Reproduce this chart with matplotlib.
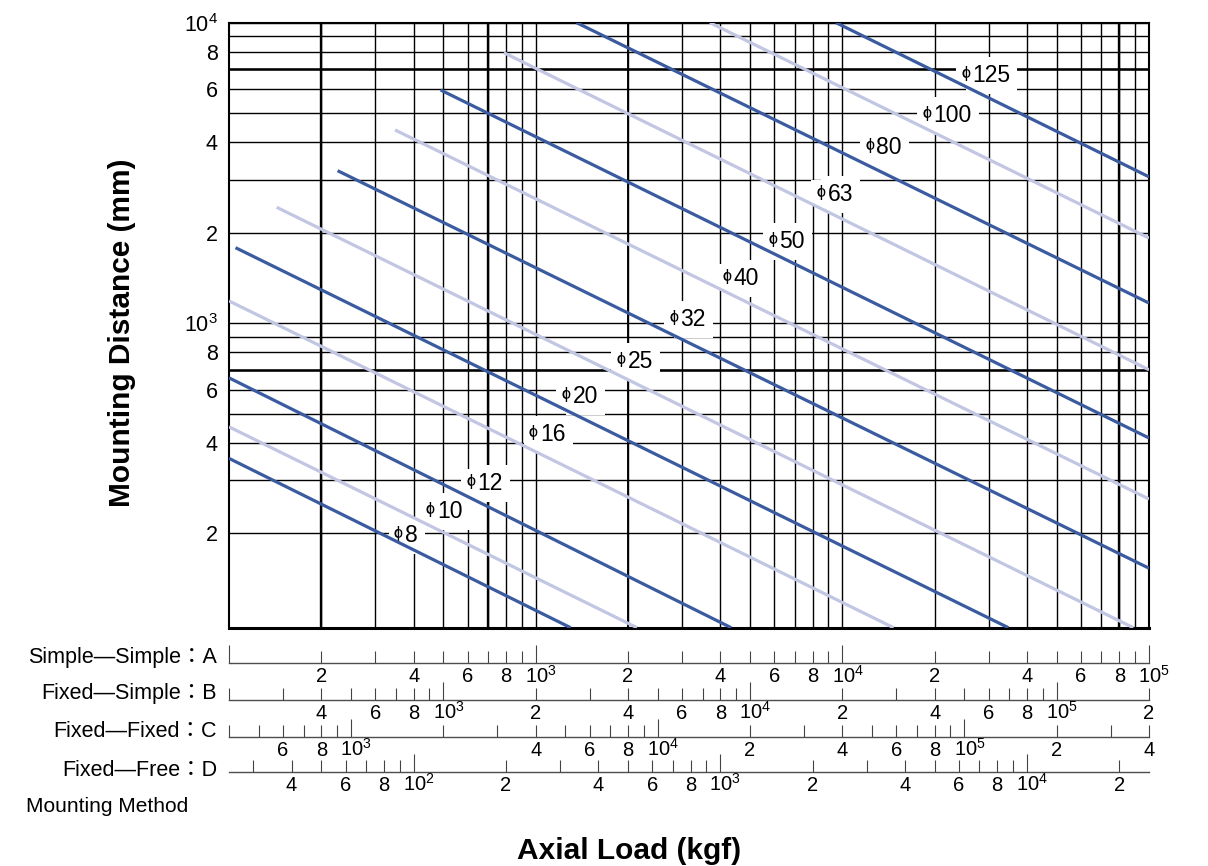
import matplotlib
matplotlib.use("Agg")
import matplotlib.pyplot as plt
from matplotlib import transforms
from matplotlib.ticker import FixedLocator, FixedFormatter, NullFormatter, NullLocator

plt.rcParams["font.family"] = ["Liberation Sans", "Noto Sans CJK JP", "DejaVu Sans"]
plt.rcParams["mathtext.default"] = "regular"

# screw shaft diameters, one straight line each (axial load on scale A in kgf, mounting distance in mm)
sizes = ["8", "10", "12", "16", "20", "25", "32", "40", "50", "63", "80", "100", "125"]
load_start = [100, 100, 100, 100, 105, 143, 226, 348, 490, 787, 1360, 3700, 9540]
dist_start = [355, 452, 658, 1186, 1784, 2431, 3218, 4395, 5970, 7950, 10000, 10000, 10000]
load_end = [1300, 2140, 4340, 14700, 34800, 88900, 100000, 100000, 100000, 100000, 100000, 100000, 100000]
dist_end = [97, 97, 97, 97, 97, 97, 153, 260, 415, 700, 1167, 1920, 3070]

# where the diameter labels sit
label_load = [372, 473, 639, 1025, 1304, 1971, 2934, 4368, 6169, 8845, 12780, 19610, 26280]
label_dist = [200, 241, 298, 434, 581, 760, 1048, 1436, 1906, 2733, 3918, 5005, 6802]

y_ticks = [200, 400, 600, 800, 1000, 2000, 4000, 6000, 8000, 10000]
y_ticklabels = ["2", "4", "6", "8", "$10^3$", "2", "4", "6", "8", "$10^4$"]

# mounting method scales under the chart
methods = ["Simple\u2014Simple\uff1aA", "Fixed\u2014Simple\uff1aB", "Fixed\u2014Fixed\uff1aC", "Fixed\u2014Free\uff1aD"]
method_range = [(100, 1e5), (200, 2e5), (400, 4e5), (25, 2.5e4)]
method_label_vals = [
    [200, 400, 600, 800, 1e3, 2e3, 4e3, 6e3, 8e3, 1e4, 2e4, 4e4, 6e4, 8e4, 1e5],
    [400, 600, 800, 1e3, 2e3, 4e3, 6e3, 8e3, 1e4, 2e4, 4e4, 6e4, 8e4, 1e5, 2e5],
    [600, 800, 1e3, 4e3, 6e3, 8e3, 1e4, 2e4, 4e4, 6e4, 8e4, 1e5, 2e5, 4e5],
    [40, 60, 80, 100, 200, 400, 600, 800, 1e3, 2e3, 4e3, 6e3, 8e3, 1e4, 2e4],
]
method_label_txt = [
    ["2", "4", "6", "8", "10^3", "2", "4", "6", "8", "10^4", "2", "4", "6", "8", "10^5"],
    ["4", "6", "8", "10^3", "2", "4", "6", "8", "10^4", "2", "4", "6", "8", "10^5", "2"],
    ["6", "8", "10^3", "4", "6", "8", "10^4", "2", "4", "6", "8", "10^5", "2", "4"],
    ["4", "6", "8", "10^2", "2", "4", "6", "8", "10^3", "2", "4", "6", "8", "10^4", "2"],
]

DARK = "#3b5ba1"
LIGHT = "#c2c6e3"
W, H = 1208, 866


def log_steps(lo, hi):
    out = []
    for e in range(0, 7):
        for m in range(1, 10):
            v = m * 10 ** e
            if lo <= v <= hi:
                out.append(v)
    return out


fig = plt.figure(figsize=(W / 100, H / 100), dpi=100)

# main chart
ax = fig.add_axes([229 / W, 1 - 627.7 / H, 920 / W, 605 / H])
ax.set_xscale("log")
ax.set_yscale("log")
ax.set_xlim(100, 1e5)
ax.set_ylim(97, 1e4)

ax.xaxis.set_major_locator(FixedLocator(log_steps(200, 1e5)))
ax.xaxis.set_minor_locator(NullLocator())
ax.xaxis.set_major_formatter(NullFormatter())
ax.yaxis.set_major_locator(FixedLocator(y_ticks))
ax.yaxis.set_major_formatter(FixedFormatter(y_ticklabels))
ax.yaxis.set_minor_locator(FixedLocator([v for v in log_steps(200, 1e4) if v not in y_ticks]))
ax.yaxis.set_minor_formatter(NullFormatter())
ax.tick_params(which="both", length=0)
ax.tick_params(axis="y", labelsize=15.5, pad=8)
ax.set_axisbelow(True)
ax.grid(which="both", color="black", linewidth=1.0)
for v in [200, 700, 80000]:
    ax.axvline(v, color="black", linewidth=1.7, zorder=0.6)
ax.axvline(2000, color="black", linewidth=1.35, zorder=0.6)
for v in [700, 7000]:
    ax.axhline(v, color="black", linewidth=1.8, zorder=0.6)
for side in ["left", "right", "top"]:
    ax.spines[side].set_linewidth(1.5)
ax.spines["bottom"].set_linewidth(2.2)

box = dict(boxstyle="square,pad=0.3", fc="white", ec="none")
for i, s in enumerate(sizes):
    ax.plot([load_start[i], load_end[i]], [dist_start[i], dist_end[i]],
            color=DARK if i % 2 == 0 else LIGHT, linewidth=2.3,
            solid_capstyle="butt", zorder=4)
    xy = (label_load[i], label_dist[i])
    # white patch behind the phi, the number with its own patch, then the phi glyph on top
    ax.annotate("\u03d5", xy, xytext=(-0.8, 0.8), textcoords="offset points",
                ha="right", va="center_baseline", fontsize=11.5, bbox=box, zorder=3)
    ax.annotate(s, xy, xytext=(1.0, 0), textcoords="offset points",
                ha="left", va="center_baseline", fontsize=16.5, bbox=box, zorder=3.2)
    ax.annotate("\u03d5", xy, xytext=(-0.8, 0.8), textcoords="offset points",
                ha="right", va="center_baseline", fontsize=11.5, zorder=3.4)

# scales for the four mounting methods
line_y = [663.3, 700, 736.7, 771.7]
name_y = [657, 694, 731.5, 770]
for k in range(4):
    lo, hi = method_range[k]
    s_ax = fig.add_axes([229 / W, 1 - line_y[k] / H, 920 / W, 0.001])
    s_ax.set_xscale("log")
    s_ax.set_xlim(lo, hi)
    s_ax.patch.set_visible(False)
    for side in ["left", "right", "top"]:
        s_ax.spines[side].set_visible(False)
    s_ax.spines["bottom"].set_color("#4d4d4d")
    s_ax.spines["bottom"].set_linewidth(1.0)
    s_ax.set_yticks([])
    ticks = log_steps(lo, hi)
    decades = [v for v in ticks if str(v).startswith("1") and set(str(v)[1:]) <= {"0"}]
    s_ax.xaxis.set_major_locator(FixedLocator(decades))
    s_ax.xaxis.set_minor_locator(FixedLocator([v for v in ticks if v not in decades]))
    s_ax.xaxis.set_major_formatter(NullFormatter())
    s_ax.xaxis.set_minor_formatter(NullFormatter())
    s_ax.tick_params(axis="x", which="both", direction="in", color="#444444", width=0.8)
    s_ax.tick_params(axis="x", which="major", length=13)
    s_ax.tick_params(axis="x", which="minor", length=8.6)
    base = transforms.blended_transform_factory(s_ax.transData, s_ax.transAxes)
    for v, t in zip(method_label_vals[k], method_label_txt[k]):
        if t.startswith("10^"):
            tr = transforms.offset_copy(base, fig=fig, x=-7.8, y=-13.8, units="points")
            s_ax.text(v, 0, "$" + t + "$", transform=tr, ha="left", va="baseline", fontsize=14.5)
        else:
            tr = transforms.offset_copy(base, fig=fig, x=0, y=-13.8, units="points")
            s_ax.text(v, 0, t, transform=tr, ha="center", va="baseline", fontsize=14.5)
    fig.text(217 / W, 1 - name_y[k] / H, methods[k], ha="right", va="center", fontsize=15.5)

fig.text(26 / W, 1 - 807 / H, "Mounting Method", ha="left", va="center", fontsize=15)
fig.text(629 / W, 1 - 851 / H, "Axial Load (kgf)", ha="center", va="center",
         fontsize=21.5, fontweight="bold")
fig.text(122 / W, 1 - 333 / H, "Mounting Distance (mm)", ha="center", va="center",
         rotation=90, fontsize=21.5, fontweight="bold")

fig.savefig("out.png", dpi=100)
